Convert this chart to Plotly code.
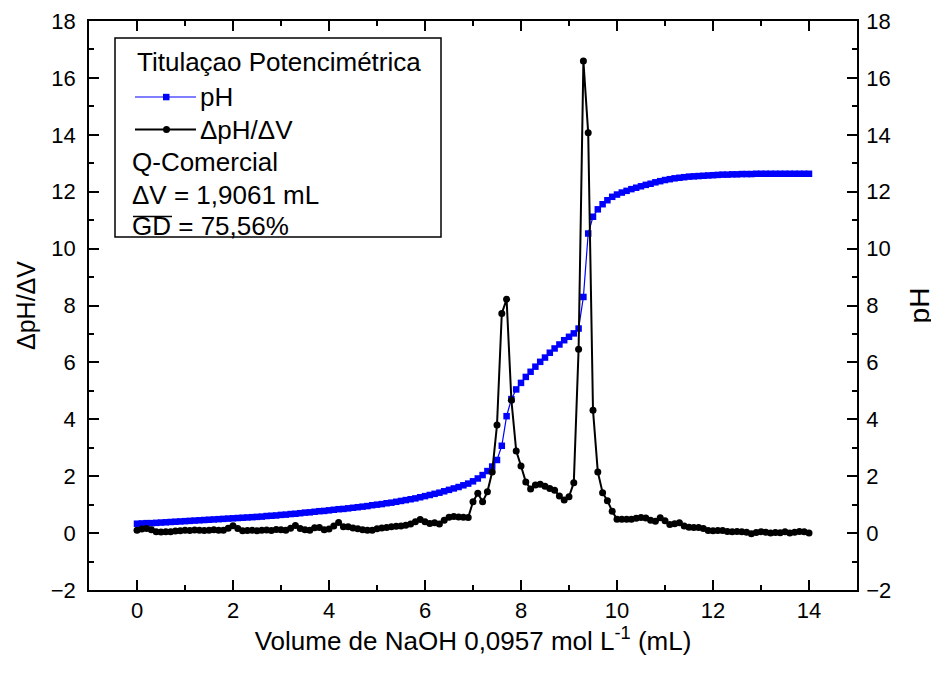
import plotly.graph_objects as go

# Volume of NaOH (mL)
volume = [0.0, 0.1, 0.2, 0.3, 0.4, 0.5, 0.6, 0.7, 0.8, 0.9,
          1.0, 1.1, 1.2, 1.3, 1.4, 1.5, 1.6, 1.7, 1.8, 1.9,
          2.0, 2.1, 2.2, 2.3, 2.4, 2.5, 2.6, 2.7, 2.8, 2.9,
          3.0, 3.1, 3.2, 3.3, 3.4, 3.5, 3.6, 3.7, 3.8, 3.9,
          4.0, 4.1, 4.2, 4.3, 4.4, 4.5, 4.6, 4.7, 4.8, 4.9,
          5.0, 5.1, 5.2, 5.3, 5.4, 5.5, 5.6, 5.7, 5.8, 5.9,
          6.0, 6.1, 6.2, 6.3, 6.4, 6.5, 6.6, 6.7, 6.8, 6.9,
          7.0, 7.1, 7.2, 7.3, 7.4, 7.5, 7.6, 7.7, 7.8, 7.9,
          8.0, 8.1, 8.2, 8.3, 8.4, 8.5, 8.6, 8.7, 8.8, 8.9,
          9.0, 9.1, 9.2, 9.3, 9.4, 9.5, 9.6, 9.7, 9.8, 9.9,
          10.0, 10.1, 10.2, 10.3, 10.4, 10.5, 10.6, 10.7, 10.8, 10.9,
          11.0, 11.1, 11.2, 11.3, 11.4, 11.5, 11.6, 11.7, 11.8, 11.9,
          12.0, 12.1, 12.2, 12.3, 12.4, 12.5, 12.6, 12.7, 12.8, 12.9,
          13.0, 13.1, 13.2, 13.3, 13.4, 13.5, 13.6, 13.7, 13.8, 13.9,
          14.0]

# pH readings
ph = [0.33, 0.34, 0.35, 0.35, 0.36, 0.37, 0.38, 0.39, 0.40, 0.41,
      0.42, 0.43, 0.44, 0.45, 0.46, 0.47, 0.48, 0.49, 0.50, 0.51,
      0.52, 0.53, 0.54, 0.55, 0.56, 0.57, 0.58, 0.60, 0.61, 0.62,
      0.64, 0.65, 0.67, 0.68, 0.70, 0.72, 0.73, 0.75, 0.77, 0.78,
      0.80, 0.82, 0.84, 0.85, 0.87, 0.89, 0.91, 0.93, 0.95, 0.98,
      1.00, 1.02, 1.05, 1.07, 1.10, 1.13, 1.16, 1.19, 1.22, 1.26,
      1.30, 1.34, 1.38, 1.42, 1.47, 1.52, 1.57, 1.62, 1.68, 1.74,
      1.82, 1.92, 2.04, 2.18, 2.34, 2.57, 3.07, 4.11, 4.71, 5.05,
      5.28, 5.49, 5.67, 5.85, 6.02, 6.17, 6.34, 6.49, 6.63, 6.78,
      6.90, 7.02, 7.19, 8.30, 10.53, 11.12, 11.38, 11.56, 11.70, 11.82,
      11.90, 11.97, 12.03, 12.09, 12.14, 12.19, 12.24, 12.28, 12.33, 12.37,
      12.41, 12.44, 12.47, 12.49, 12.51, 12.53, 12.54, 12.55, 12.56, 12.57,
      12.58, 12.59, 12.60, 12.60, 12.61, 12.61, 12.62, 12.62, 12.62, 12.63,
      12.63, 12.63, 12.63, 12.63, 12.63, 12.63, 12.63, 12.63, 12.63, 12.63,
      12.63]

# First derivative dpH/dV
dph_dv = [0.10, 0.14, 0.16, 0.12, 0.05, 0.04, 0.05, 0.05, 0.07, 0.08,
          0.10, 0.09, 0.11, 0.10, 0.09, 0.10, 0.12, 0.10, 0.10, 0.17,
          0.26, 0.16, 0.08, 0.09, 0.10, 0.08, 0.10, 0.11, 0.09, 0.13,
          0.12, 0.10, 0.17, 0.27, 0.16, 0.12, 0.10, 0.19, 0.20, 0.12,
          0.14, 0.25, 0.37, 0.22, 0.22, 0.18, 0.15, 0.12, 0.10, 0.10,
          0.15, 0.18, 0.20, 0.22, 0.24, 0.25, 0.28, 0.32, 0.40, 0.48,
          0.40, 0.34, 0.36, 0.32, 0.45, 0.56, 0.58, 0.57, 0.56, 0.55,
          1.10, 1.40, 1.10, 1.45, 2.15, 3.80, 7.72, 8.22, 4.67, 2.89,
          2.36, 1.80, 1.55, 1.69, 1.72, 1.65, 1.57, 1.51, 1.30, 1.16,
          1.28, 1.77, 6.46, 16.59, 14.07, 4.32, 2.15, 1.42, 1.14, 0.77,
          0.49, 0.49, 0.49, 0.49, 0.52, 0.55, 0.53, 0.45, 0.42, 0.54,
          0.43, 0.30, 0.33, 0.36, 0.25, 0.21, 0.20, 0.20, 0.16, 0.09,
          0.08, 0.09, 0.09, 0.06, 0.05, 0.06, 0.05, 0.03, -0.02, 0.02,
          0.05, 0.03, 0.00, 0.02, 0.01, 0.05, 0.00, 0.03, 0.06, 0.05,
          0.00]

FONT = "Liberation Sans, Arial, sans-serif"

fig = go.Figure()
fig.add_trace(go.Scatter(
    x=volume, y=ph, yaxis="y", mode="lines+markers", name="pH",
    line=dict(color="#0000FF", width=1.2),
    marker=dict(symbol="square", size=6.5, color="#0000FF"),
))
fig.add_trace(go.Scatter(
    x=volume, y=dph_dv, yaxis="y2", mode="lines+markers", name="ΔpH/ΔV",
    line=dict(color="#000000", width=2),
    marker=dict(symbol="circle", size=7, color="#000000"),
))

axis_common = dict(
    range=[-2, 18], tick0=0, dtick=2, ticks="inside", ticklen=10, tickwidth=1.5,
    tickcolor="black", showline=True, linewidth=1.5, linecolor="black",
    showgrid=False, zeroline=False, automargin=False,
    tickfont=dict(family=FONT, size=22, color="black"),
    minor=dict(ticks="inside", ticklen=5, tickwidth=1.5, tickcolor="black", dtick=1, tick0=0, showgrid=False),
)

# The page body adds an 8px offset, so the figure is 8px smaller than the window
fig.update_layout(
    width=931, height=667,
    margin=dict(l=81, r=82, t=13, b=85, autoexpand=False),
    paper_bgcolor="white", plot_bgcolor="white",
    showlegend=False,
    font=dict(family=FONT, color="black"),
    xaxis=dict(
        range=[-1, 15], tick0=0, dtick=2, ticks="inside", ticklen=10, tickwidth=1.5,
        tickcolor="black", showline=True, linewidth=1.5, linecolor="black", mirror="ticks",
        showgrid=False, zeroline=False, automargin=False,
        tickfont=dict(family=FONT, size=22, color="black"),
        minor=dict(ticks="inside", ticklen=5, tickwidth=1.5, tickcolor="black", dtick=1, tick0=0, showgrid=False),
        title=dict(text="Volume de NaOH 0,0957 mol L<sup>-1</sup> (mL)",
                   font=dict(family=FONT, size=26, color="black"), standoff=9),
    ),
    yaxis=dict(side="right", ticklabelstandoff=3,
               title=dict(text="pH", font=dict(family=FONT, size=28, color="black"), standoff=19),
               **axis_common),
    yaxis2=dict(side="left", overlaying="y", ticklabelstandoff=7,
                title=dict(text="ΔpH/ΔV", font=dict(family=FONT, size=25, color="black"), standoff=8),
                **axis_common),
)

# Legend box (drawn like the Origin text box); positions in window pixels
def px_x(p):
    return (p - 89) / 768.0

def px_y(p):
    return (590 - p) / 569.0

fig.add_shape(type="rect", xref="paper", yref="paper",
              x0=px_x(115), x1=px_x(441), y0=px_y(237), y1=px_y(38),
              line=dict(color="black", width=1.5), fillcolor="white", layer="above")

# legend samples
fig.add_shape(type="line", xref="paper", yref="paper", x0=px_x(135), x1=px_x(196),
              y0=px_y(97), y1=px_y(97), line=dict(color="#0000FF", width=1.2), layer="above")
fig.add_shape(type="rect", xref="paper", yref="paper", x0=px_x(163), x1=px_x(169.5),
              y0=px_y(100.3), y1=px_y(93.8), line=dict(color="#0000FF", width=0), fillcolor="#0000FF", layer="above")
fig.add_shape(type="line", xref="paper", yref="paper", x0=px_x(135), x1=px_x(196),
              y0=px_y(129.5), y1=px_y(129.5), line=dict(color="black", width=2), layer="above")
fig.add_shape(type="circle", xref="paper", yref="paper", x0=px_x(163), x1=px_x(170),
              y0=px_y(133), y1=px_y(126), line=dict(color="black", width=0), fillcolor="black", layer="above")
# overline above "GD"
fig.add_shape(type="line", xref="paper", yref="paper", x0=px_x(133), x1=px_x(172),
              y0=px_y(216.5), y1=px_y(216.5), line=dict(color="black", width=1.5), layer="above")

legend_lines = [
    ("Titulaçao Potencimétrica", 135, 62),
    ("pH", 198, 97),
    ("ΔpH/ΔV", 198, 130),
    ("Q-Comercial", 130, 162),
    ("ΔV = 1,9061 mL", 130, 195),
    ("GD = 75,56%", 130, 226),
]
for txt, xp, yp in legend_lines:
    fig.add_annotation(xref="paper", yref="paper", x=px_x(xp), y=px_y(yp), text=txt,
                       showarrow=False, xanchor="left", yanchor="middle",
                       font=dict(family=FONT, size=26, color="black"))

fig.write_html("out.html")
